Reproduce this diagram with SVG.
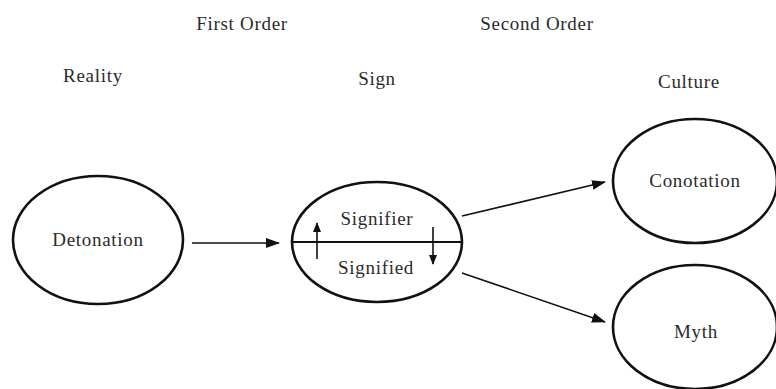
<svg xmlns="http://www.w3.org/2000/svg" width="776" height="389" viewBox="0 0 776 389">
  <style>
    .label { fill: #2b2b2b; text-anchor: middle; letter-spacing: 0.7px; }
    .node { fill: none; stroke: #111; stroke-width: 2.6; }
    .link { fill: none; stroke: #111; stroke-width: 1.6; }
  </style>
  <defs>
    <marker id="arrow" viewBox="0 0 10 10" refX="9" refY="5" markerWidth="10" markerHeight="10" markerUnits="userSpaceOnUse" orient="auto">
      <path d="M0,1 L10,5 L0,9 z" fill="#111"/>
    </marker>
    <marker id="arrow-big" viewBox="0 0 14 10" refX="13" refY="5" markerWidth="14" markerHeight="10" markerUnits="userSpaceOnUse" orient="auto">
      <path d="M0,0 L14,5 L0,10 z" fill="#111"/>
    </marker>
  </defs>

  <g font-family="Liberation Serif, Times New Roman, serif" font-size="19">
    <!-- column headings -->
    <text class="label" x="242" y="30">First Order</text>
    <text class="label" x="537" y="30">Second Order</text>
    <text class="label" x="93" y="82">Reality</text>
    <text class="label" x="377" y="85">Sign</text>
    <text class="label" x="689" y="88">Culture</text>

    <g id="detonation">
      <ellipse class="node" cx="98" cy="240" rx="85" ry="64"/>
      <text class="label" x="98" y="246">Detonation</text>
    </g>

    <g id="sign">
      <ellipse class="node" cx="377" cy="242" rx="85" ry="60"/>
      <line x1="292" y1="242" x2="462" y2="242" stroke="#111" stroke-width="2"/>
      <text class="label" x="377" y="225">Signifier</text>
      <text class="label" x="376" y="274">Signified</text>
      <line class="link" x1="317" y1="259" x2="317" y2="223" marker-end="url(#arrow)"/>
      <line class="link" x1="433" y1="227" x2="433" y2="264" marker-end="url(#arrow)"/>
    </g>

    <g id="conotation">
      <ellipse class="node" cx="695" cy="181" rx="82" ry="62"/>
      <text class="label" x="695" y="187">Conotation</text>
    </g>

    <g id="myth">
      <ellipse class="node" cx="695" cy="327" rx="82" ry="62"/>
      <text class="label" x="696" y="338">Myth</text>
    </g>
  </g>

  <g id="connectors">
    <line class="link" x1="192" y1="243" x2="279" y2="243" marker-end="url(#arrow-big)"/>
    <line class="link" x1="462" y1="216" x2="605" y2="182" marker-end="url(#arrow-big)"/>
    <line class="link" x1="462" y1="273" x2="605" y2="322" marker-end="url(#arrow-big)"/>
  </g>
</svg>
